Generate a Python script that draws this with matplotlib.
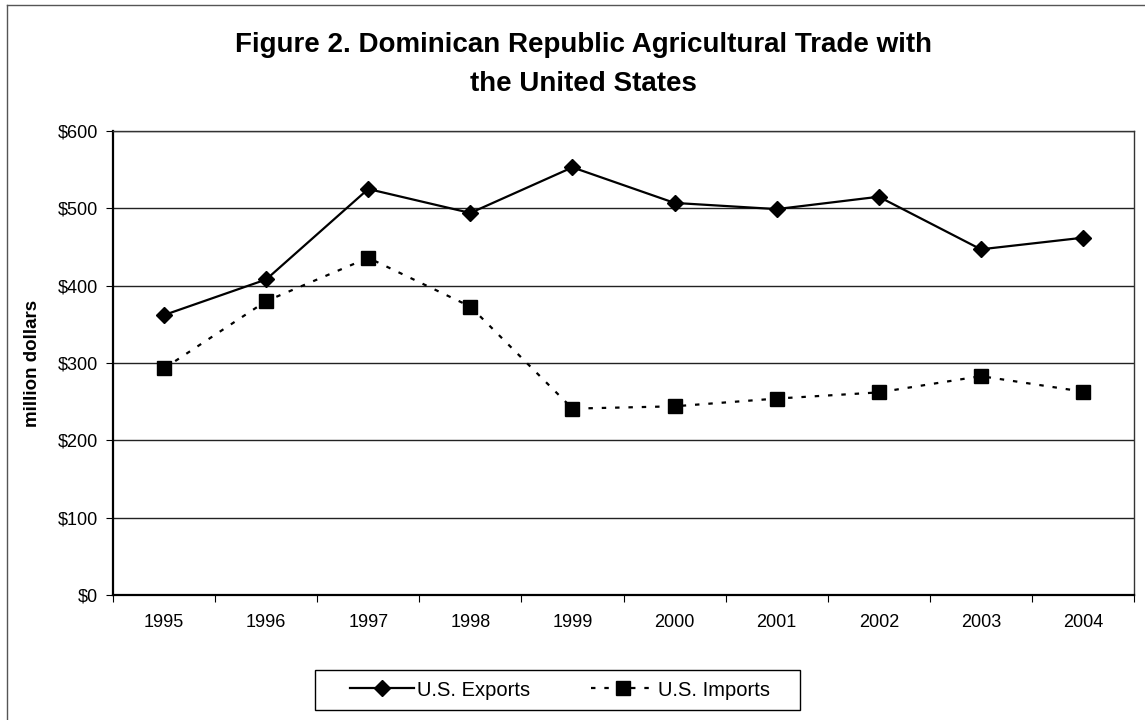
import matplotlib.pyplot as plt
from matplotlib.ticker import FixedLocator, NullFormatter, FuncFormatter
from matplotlib.patches import Rectangle
from matplotlib.lines import Line2D

plt.rcParams['font.family'] = ['Liberation Sans', 'DejaVu Sans']

# Data (million dollars)
years = ['1995', '1996', '1997', '1998', '1999', '2000', '2001', '2002', '2003', '2004']
us_exports = [362, 408, 525, 494, 553, 507, 499, 515, 447, 462]
us_imports = [293, 380, 436, 373, 241, 244, 254, 262, 283, 263]
y_ticks = [0, 100, 200, 300, 400, 500, 600]

W, H = 1145, 720
fig = plt.figure(figsize=(W / 100, H / 100), dpi=100)
ax = fig.add_axes([113 / W, 1 - 595 / H, (1134 - 113) / W, (595 - 131) / H])

x = list(range(len(years)))
ax.plot(x, us_exports, color='black', linewidth=1.6, marker='D', markersize=8.5,
        label='U.S. Exports')
ax.plot(x, us_imports, color='black', linewidth=1.6, linestyle=(0, (2, 4)),
        marker='s', markersize=10, label='U.S. Imports')

ax.set_xlim(-0.5, len(years) - 0.5)
ax.set_ylim(0, 600)
ax.set_yticks(y_ticks)
ax.yaxis.set_major_formatter(FuncFormatter(lambda v, p: f'${v:.0f}'))
ax.grid(axis='y', color='#222222', linewidth=1.0)
ax.set_axisbelow(True)

# category ticks between labels, labels centred
ax.xaxis.set_major_locator(FixedLocator([i - 0.5 for i in range(len(years) + 1)]))
ax.xaxis.set_major_formatter(NullFormatter())
ax.xaxis.set_minor_locator(FixedLocator(x))
ax.set_xticklabels(years, minor=True)
ax.tick_params(axis='x', which='minor', length=0, pad=14, labelsize=13)
ax.tick_params(axis='x', which='major', length=5, direction='out')
ax.tick_params(axis='y', length=5, direction='out', labelsize=13, pad=6)

for side in ['left', 'bottom']:
    ax.spines[side].set_linewidth(1.6)
for side in ['top', 'right']:
    ax.spines[side].set_linewidth(1.0)
    ax.spines[side].set_color('#333333')

ax.set_ylabel('million dollars', fontsize=13.5, fontweight='bold', labelpad=12)

fig.text(583 / W, 1 - 45 / H, 'Figure 2. Dominican Republic Agricultural Trade with',
         ha='center', va='center', fontsize=20, fontweight='bold')
fig.text(583 / W, 1 - 84 / H, 'the United States',
         ha='center', va='center', fontsize=20, fontweight='bold')

# legend box drawn separately to match its wide padding
fig.patches.append(Rectangle((315 / W, 1 - 710 / H), 485 / W, 40 / H,
                             transform=fig.transFigure, fill=False,
                             edgecolor='black', linewidth=1.0))
fig.legend(loc='center', bbox_to_anchor=(560 / W, 1 - 690 / H), ncol=2,
           frameon=False, fontsize=14.5, handlelength=3.2, handletextpad=0.15,
           columnspacing=3.0)

# outer chart border (left and top edges visible in the scan)
fig.add_artist(Line2D([7 / W, 7 / W], [0, 1 - 5 / H], transform=fig.transFigure,
                      color='#555555', linewidth=1.0))
fig.add_artist(Line2D([7 / W, 1], [1 - 5 / H, 1 - 5 / H], transform=fig.transFigure,
                      color='#555555', linewidth=1.0))

fig.savefig('out.png', dpi=100)
